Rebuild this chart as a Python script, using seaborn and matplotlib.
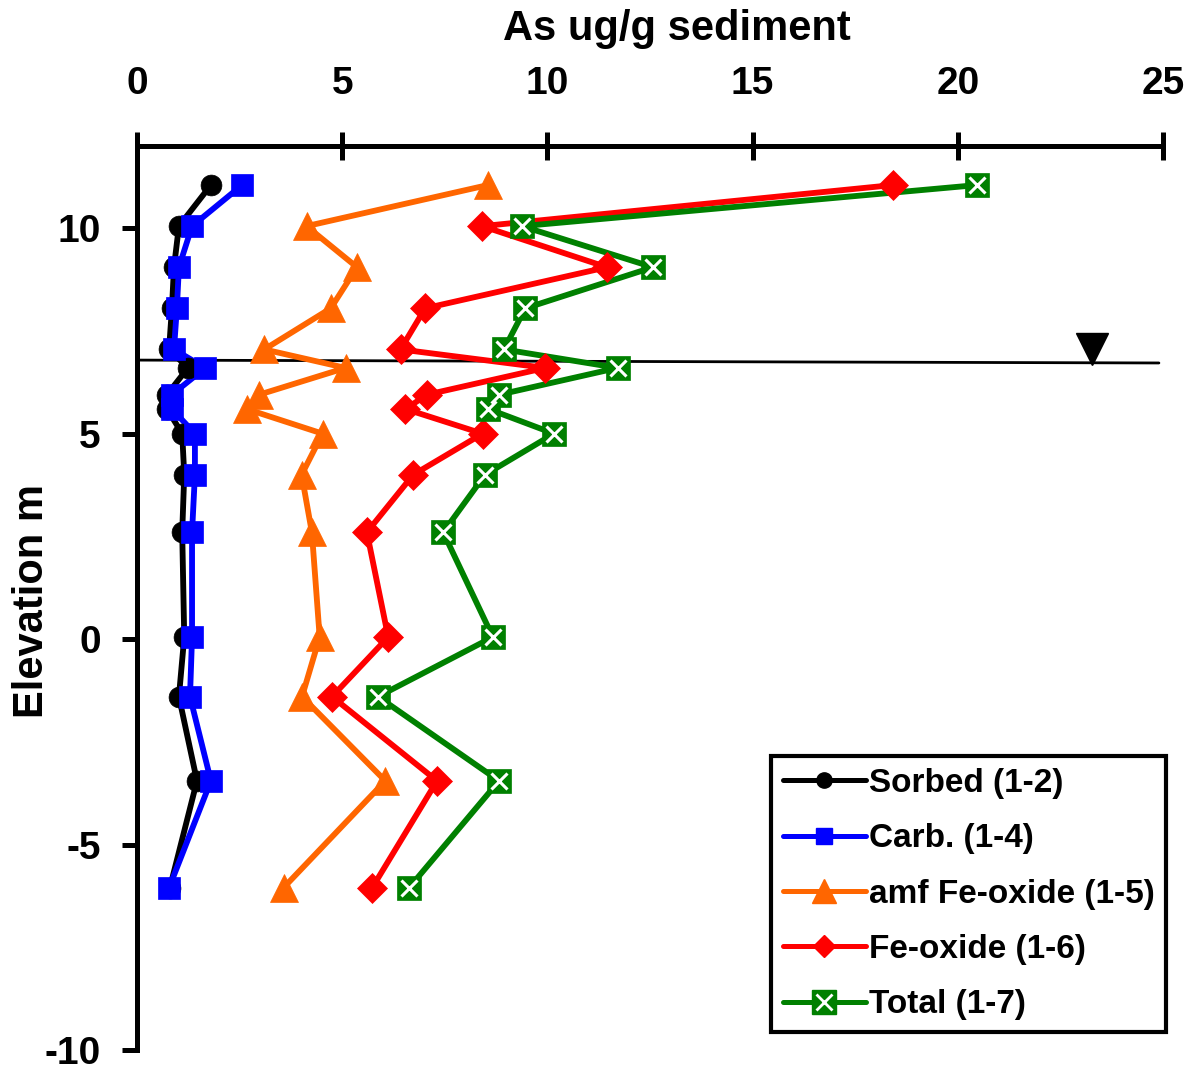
import matplotlib
matplotlib.use("Agg")
import matplotlib.pyplot as plt
from matplotlib.lines import Line2D
import seaborn as sns
import pandas as pd

# Sampling elevations (m) and arsenic from cumulative sequential extraction steps (ug/g)
elevation = [11.05, 10.05, 9.05, 8.05, 7.05, 6.6, 5.95, 5.6, 5.0, 4.0, 2.6, 0.05, -1.4, -3.45, -6.05]
sorbed = [1.80, 1.02, 0.90, 0.85, 0.78, 1.24, 0.73, 0.73, 1.10, 1.15, 1.10, 1.15, 1.02, 1.46, 0.80]
carb = [2.56, 1.34, 1.02, 0.97, 0.90, 1.66, 0.85, 0.85, 1.41, 1.41, 1.34, 1.34, 1.29, 1.80, 0.78]
amf_fe_oxide = [8.55, 4.13, 5.36, 4.72, 3.10, 5.08, 2.98, 2.67, 4.52, 4.01, 4.26, 4.45, 4.02, 6.05, 3.57]
fe_oxide = [18.42, 8.41, 11.45, 7.02, 6.42, 9.95, 7.07, 6.54, 8.42, 6.73, 5.60, 6.12, 4.75, 7.31, 5.73]
total = [20.47, 9.38, 12.57, 9.46, 8.94, 11.71, 8.83, 8.56, 10.16, 8.48, 7.46, 8.67, 5.87, 8.82, 6.63]

# Water table
water_table_x = [0.0, 24.9]
water_table_y = [6.79, 6.72]
water_table_symbol_x = [23.27]
water_table_symbol_y = [7.05]

labels = ["Sorbed (1-2)", "Carb. (1-4)", "amf Fe-oxide (1-5)", "Fe-oxide (1-6)", "Total (1-7)"]
x_ticks = [0, 5, 10, 15, 20, 25]
y_ticks = [-10, -5, 0, 5, 10]

sns.set_theme(style="white")
plt.rcParams["font.family"] = ["Liberation Sans", "DejaVu Sans"]
plt.rcParams["font.weight"] = "bold"
plt.rcParams["text.color"] = "black"
plt.rcParams["axes.unicode_minus"] = False

fig = plt.figure(figsize=(11.98, 10.72), dpi=100)
ax = fig.add_axes([0.1144, 0.0205, 0.8564, 0.8433])

series = [
    (sorbed, "black", "o", 15, labels[0]),
    (carb, "#0000FF", "s", 15.5, labels[1]),
    (amf_fe_oxide, "#FF6600", "^", 20.5, labels[2]),
    (fe_oxide, "#FF0000", "D", 15, labels[3]),
    (total, "#008000", "s", 17, labels[4]),
]

frames = {lab: pd.DataFrame({"x": vals, "y": elevation}) for vals, _, _, _, lab in series}

# lines first, then markers on top
for vals, col, mk, ms, lab in series:
    sns.lineplot(data=frames[lab], x="x", y="y", sort=False, estimator=None,
                 color=col, lw=4.2, ax=ax, zorder=2, legend=False)
for vals, col, mk, ms, lab in series:
    sns.lineplot(data=frames[lab], x="x", y="y", sort=False, estimator=None,
                 color=col, linestyle="", marker=mk, markersize=ms,
                 markeredgecolor=col, markeredgewidth=0.5, ax=ax, zorder=3, legend=False)
sns.lineplot(data=frames[labels[4]], x="x", y="y", sort=False, estimator=None,
             color="white", linestyle="", marker="x", markersize=11.5,
             markeredgewidth=2.2, ax=ax, zorder=4, legend=False)

# water table line and symbol
ax.plot(water_table_x, water_table_y, color="black", lw=2.0, zorder=1.5)
ax.plot(water_table_symbol_x, water_table_symbol_y, linestyle="", marker="v",
        markersize=23, color="black", zorder=4)

ax.set_xlim(0, 25)
ax.set_ylim(-10, 12)
ax.set_xticks(x_ticks)
ax.set_yticks(y_ticks)
ax.set_xticklabels([str(t) for t in x_ticks])
ax.set_yticklabels([str(t) for t in y_ticks])

ax.xaxis.tick_top()
ax.xaxis.set_label_position("top")
for side in ["right", "bottom"]:
    ax.spines[side].set_visible(False)
for side in ["left", "top"]:
    ax.spines[side].set_linewidth(3.6)
    ax.spines[side].set_color("black")

ax.tick_params(axis="x", direction="inout", length=20, width=3.6, pad=22,
               labelsize=28, colors="black", top=True, bottom=False)
ax.tick_params(axis="y", direction="out", length=11, width=3.6, pad=15,
               labelsize=28, colors="black", left=True)
for t in ax.get_xticklabels() + ax.get_yticklabels():
    t.set_fontweight("bold")

ax.set_xlabel("As ug/g sediment", fontsize=30, fontweight="bold", color="black")
ax.set_ylabel("Elevation m", fontsize=30, fontweight="bold", color="black")
ax.xaxis.set_label_coords(0.526, 1.117)
ax.yaxis.set_label_coords(-0.083, 0.497)
ax.grid(False)

handles = [
    Line2D([], [], color="black", lw=3.6, marker="o", markersize=11),
    Line2D([], [], color="#0000FF", lw=3.6, marker="s", markersize=11),
    Line2D([], [], color="#FF6600", lw=3.6, marker="^", markersize=17),
    Line2D([], [], color="#FF0000", lw=3.6, marker="D", markersize=11),
    (Line2D([], [], color="#008000", lw=3.6, marker="s", markersize=17),
     Line2D([], [], color="white", lw=0, marker="x", markersize=11, markeredgewidth=2)),
]
leg = ax.legend(handles, labels, loc="lower right", bbox_to_anchor=(1.003, 0.02),
                borderaxespad=0, frameon=True, fancybox=False, edgecolor="black",
                prop={"family": "Liberation Sans", "weight": "bold", "size": 24},
                handlelength=2.5, handletextpad=0.08, labelspacing=0.73,
                borderpad=0.35, framealpha=1)
leg.get_frame().set_linewidth(3)
for txt in leg.get_texts():
    txt.set_color("black")

fig.savefig("out.png", dpi=100, facecolor="white")
